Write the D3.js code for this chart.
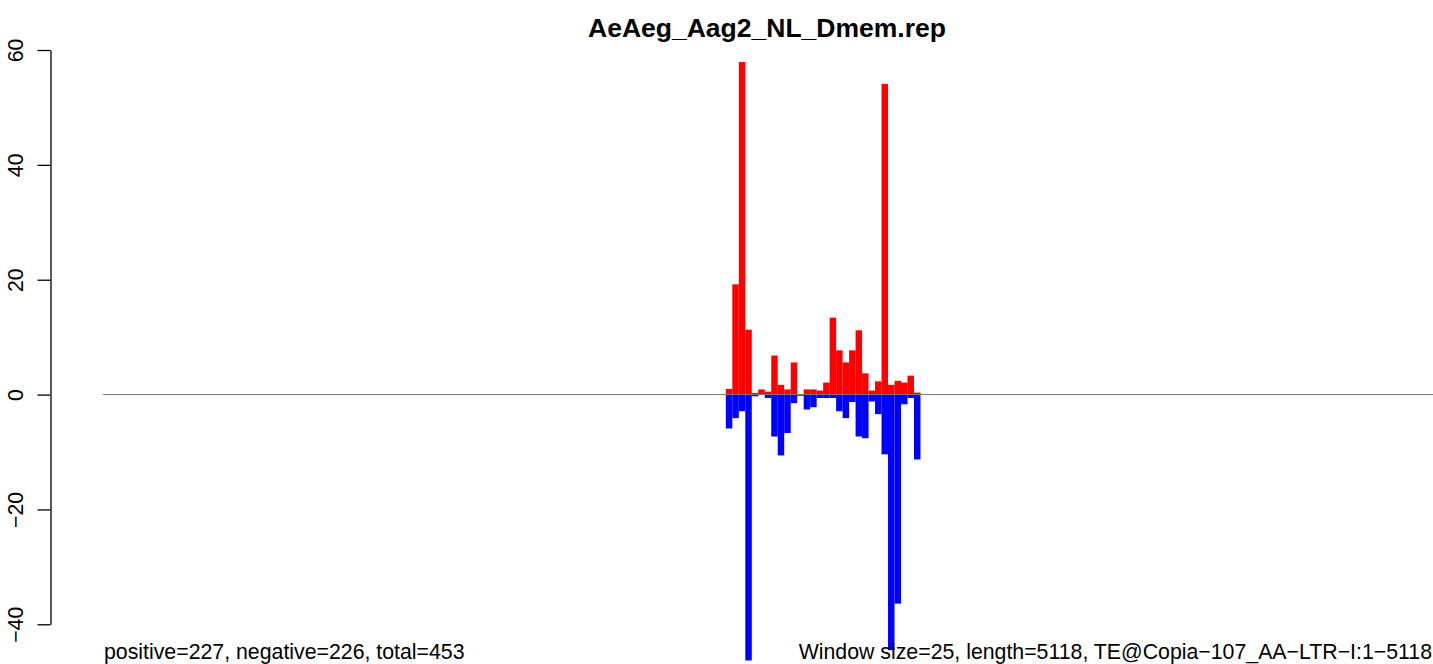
<!DOCTYPE html>
<html>
<head>
<meta charset="utf-8">
<script src="https://cdn.jsdelivr.net/npm/d3@7"></script>
<style>
  html, body { margin: 0; padding: 0; background: #fff; }
  svg { display: block; font-family: "Liberation Sans", Arial, Helvetica, sans-serif; }
</style>
</head>
<body>
<svg id="chart" width="1433" height="664"></svg>
<script>
// ---- data ----
const chartTitle = "AeAeg_Aag2_NL_Dmem.rep";
const totalWindows = 205;           // 5118 / 25, rounded up
const windowIndex = [96, 97, 98, 99, 100, 101, 102, 103, 104, 105,
                     106, 107, 108, 109, 110, 111, 112, 113, 114, 115,
                     116, 117, 118, 119, 120, 121, 122, 123, 124, 125];
const positiveValues = [1.0, 19.2, 57.9, 11.3, 0.3, 0.9, 0.5, 6.8, 1.7, 0.9,
                        5.6, 0.0, 0.9, 0.9, 0.7, 2.1, 13.4, 7.7, 5.6, 7.7,
                        11.2, 3.7, 0.7, 2.3, 54.1, 1.7, 2.4, 2.1, 3.3, 0.35];
const negativeValues = [5.9, 4.1, 2.9, 46.3, 0.3, 0.0, 0.6, 7.3, 10.6, 6.7,
                        1.5, 0.2, 2.6, 2.2, 0.6, 0.6, 0.6, 2.9, 4.1, 1.3,
                        7.3, 7.6, 1.2, 3.4, 10.4, 44.5, 36.4, 1.7, 0.6, 11.3];
const yTicks = [-40, -20, 0, 20, 40, 60];
const leftNote = "positive=227, negative=226, total=453";
const rightNote = "Window size=25, length=5118, TE@Copia\u2212107_AA\u2212LTR\u2212I:1\u22125118";

// ---- drawing ----
const svg = d3.select("#chart");
const x = d3.scaleLinear().domain([0, totalWindows]).range([103, 1433]);
const y = d3.scaleLinear().domain([-40, 60]).range([624.3, 50]);

// positive bars
svg.append("g").selectAll("rect")
  .data(windowIndex.map((k, i) => ({k, v: positiveValues[i]})))
  .join("rect")
  .attr("x", d => x(d.k))
  .attr("width", d => x(d.k + 1) - x(d.k))
  .attr("y", d => y(d.v))
  .attr("height", d => y(0) - y(d.v))
  .attr("fill", "#ff0000");

// negative bars
svg.append("g").selectAll("rect")
  .data(windowIndex.map((k, i) => ({k, v: negativeValues[i]})))
  .join("rect")
  .attr("x", d => x(d.k))
  .attr("width", d => x(d.k + 1) - x(d.k))
  .attr("y", y(0))
  .attr("height", d => y(-d.v) - y(0))
  .attr("fill", "#0000ff");

// zero line
svg.append("line")
  .attr("x1", x(0)).attr("x2", x(totalWindows))
  .attr("y1", y(0)).attr("y2", y(0))
  .attr("stroke", "#777").attr("stroke-width", 1);

// y axis
const yAxis = d3.axisLeft(y)
  .tickValues(yTicks)
  .tickSize(13)
  .tickSizeOuter(0)
  .tickFormat(d => d < 0 ? "\u2212" + Math.abs(d) : String(d));
const gy = svg.append("g").attr("transform", "translate(50.5,0)").call(yAxis);
gy.select(".domain").attr("stroke", "#000").attr("stroke-width", 1.3);
gy.selectAll(".tick line").attr("stroke", "#000").attr("stroke-width", 1.3);
gy.selectAll(".tick text")
  .attr("x", null).attr("dy", null)
  .attr("text-anchor", "middle")
  .attr("transform", "translate(-28,0) rotate(-90)")
  .attr("font-size", 21.3)
  .attr("font-family", "Liberation Sans, Arial, sans-serif")
  .attr("fill", "#000");

// title
svg.append("text")
  .attr("x", 767).attr("y", 37)
  .attr("text-anchor", "middle")
  .attr("font-weight", "bold")
  .attr("font-size", 26.5)
  .text(chartTitle);

// bottom notes
svg.append("text")
  .attr("x", 104).attr("y", 659)
  .attr("font-size", 21.3)
  .text(leftNote);
svg.append("text")
  .attr("x", 1432).attr("y", 659)
  .attr("text-anchor", "end")
  .attr("font-size", 21.3)
  .text(rightNote);
</script>
</body>
</html>
